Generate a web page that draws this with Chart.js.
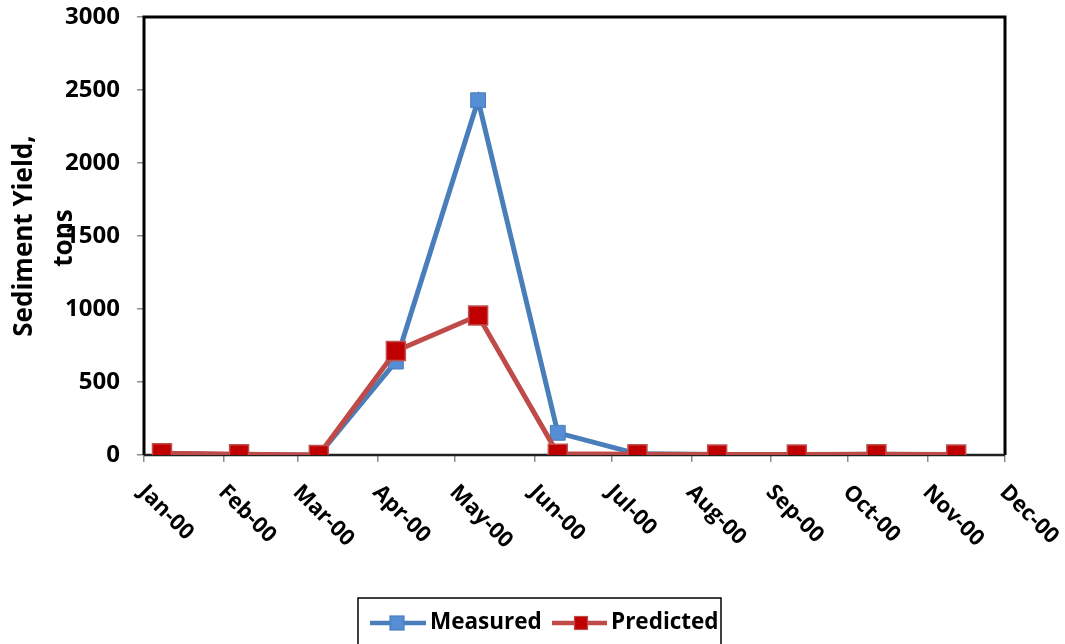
<!DOCTYPE html>
<html>
<head>
<meta charset="utf-8">
<script src="https://cdn.jsdelivr.net/npm/chart.js@4.4.1/dist/chart.umd.min.js"></script>
<style>
  html, body { margin: 0; padding: 0; background: #fff; }
  #wrap { width: 1065px; height: 644px; position: relative; }
</style>
</head>
<body>
<div id="wrap"><canvas id="c" width="1065" height="644"></canvas></div>
<script>
// Month tick labels and the day-of-year (2000) where each month starts
const monthLabels = ['Jan-00','Feb-00','Mar-00','Apr-00','May-00','Jun-00','Jul-00','Aug-00','Sep-00','Oct-00','Nov-00','Dec-00'];
const monthStartDays = [0, 31, 60, 91, 121, 152, 182, 213, 244, 274, 305, 335];

// Sampling dates (day of year) for each monthly value
const sampleDays = [7, 37, 68, 98, 130, 161, 192, 223, 254, 285, 316];

// Sediment yield, tons
const measured  = [12, 2, 0, 640, 2430, 152, 8, 3, 2, 5, 2];
const predicted = [12, 5, 0, 712, 955, 8, 5, 3, 3, 5, 3];

const yTicks = [0, 500, 1000, 1500, 2000, 2500, 3000];

const FONT = '"Open Sans"';
const BLUE_LINE = '#4A7EBB';
const BLUE_FILL = '#558ED5';
const RED_LINE = '#BE4B48';
const RED_FILL = '#C00000';

function toPoints(xs, ys) { return xs.map((x, i) => ({ x: x, y: ys[i] })); }

const decorations = {
  id: 'decorations',
  beforeDatasetsDraw(chart) {
    const { ctx, chartArea: a } = chart;
    ctx.save();
    // plot frame
    ctx.strokeStyle = '#000';
    ctx.lineWidth = 3;
    ctx.beginPath();
    ctx.moveTo(a.left, a.bottom);
    ctx.lineTo(a.left, a.top);
    ctx.lineTo(a.right, a.top);
    ctx.lineTo(a.right, a.bottom);
    ctx.stroke();
    ctx.lineWidth = 2.5;
    ctx.strokeStyle = '#222';
    ctx.beginPath();
    ctx.moveTo(a.left, a.bottom);
    ctx.lineTo(a.right, a.bottom);
    ctx.stroke();
    ctx.restore();
  },
  afterDraw(chart) {
    const { ctx } = chart;
    const xs = chart.scales.x;
    ctx.save();
    ctx.fillStyle = '#000';

    // rotated month labels
    ctx.font = 'bold 22px ' + FONT;
    ctx.textAlign = 'left';
    ctx.textBaseline = 'top';
    monthLabels.forEach((lab, i) => {
      const px = xs.getPixelForValue(monthStartDays[i]);
      ctx.save();
      ctx.translate(px + 6, 481);
      ctx.rotate(Math.PI / 4);
      ctx.fillText(lab, 0, 0);
      ctx.restore();
    });

    // y-axis title, two lines
    ctx.font = 'bold 26px ' + FONT;
    ctx.textAlign = 'center';
    ctx.textBaseline = 'middle';
    ctx.save();
    ctx.translate(25, 236);
    ctx.rotate(-Math.PI / 2);
    ctx.fillText('Sediment Yield,', 0, 0);
    ctx.restore();
    ctx.save();
    ctx.translate(65, 238);
    ctx.rotate(-Math.PI / 2);
    ctx.fillText('tons', 0, 0);
    ctx.restore();

    // legend
    ctx.strokeStyle = '#000';
    ctx.lineWidth = 1.5;
    ctx.strokeRect(358, 598, 363, 60);
    const ly = 623;
    const items = [
      { label: chart.data.datasets[0].label, line: BLUE_LINE, fill: BLUE_FILL, x0: 370, x1: 426, mx: 397, size: 14, tx: 430 },
      { label: chart.data.datasets[1].label, line: RED_LINE, fill: RED_FILL, x0: 552, x1: 607, mx: 581, size: 13, tx: 611 }
    ];
    items.forEach(it => {
      ctx.strokeStyle = it.line;
      ctx.lineWidth = 4.5;
      ctx.beginPath();
      ctx.moveTo(it.x0, ly);
      ctx.lineTo(it.x1, ly);
      ctx.stroke();
      ctx.fillStyle = it.fill;
      ctx.fillRect(it.mx - it.size / 2, ly - it.size / 2, it.size, it.size);
      ctx.lineWidth = 1.2;
      ctx.strokeRect(it.mx - it.size / 2, ly - it.size / 2, it.size, it.size);
      ctx.fillStyle = '#000';
      ctx.font = 'bold 22.5px ' + FONT;
      ctx.textAlign = 'left';
      ctx.textBaseline = 'middle';
      ctx.fillText(it.label, it.tx, ly);
    });
    ctx.restore();
  }
};

new Chart(document.getElementById('c'), {
  type: 'line',
  data: {
    datasets: [
      {
        label: 'Measured',
        data: toPoints(sampleDays, measured),
        borderColor: BLUE_LINE,
        borderWidth: 5,
        backgroundColor: BLUE_FILL,
        pointStyle: 'rect',
        pointRadius: 10.5,
        pointBorderColor: '#4A7EBB',
        pointBorderWidth: 1,
        pointBackgroundColor: BLUE_FILL,
        tension: 0,
        order: 1
      },
      {
        label: 'Predicted',
        data: toPoints(sampleDays, predicted),
        borderColor: RED_LINE,
        borderWidth: 5,
        backgroundColor: RED_FILL,
        pointStyle: 'rect',
        pointRadius: 13.4,
        pointBorderColor: '#C0504D',
        pointBorderWidth: 1.5,
        pointBackgroundColor: RED_FILL,
        tension: 0,
        order: 0
      }
    ]
  },
  options: {
    responsive: false,
    animation: false,
    events: [],
    layout: { padding: { top: 17, right: 60, left: 0, bottom: 0 } },
    plugins: { legend: { display: false }, tooltip: { enabled: false } },
    scales: {
      x: {
        type: 'linear',
        min: monthStartDays[0],
        max: monthStartDays[monthStartDays.length - 1],
        afterBuildTicks(scale) { scale.ticks = monthStartDays.map(v => ({ value: v })); },
        afterFit(scale) { scale.height = 189; scale.paddingLeft = 0; scale.paddingRight = 0; },
        ticks: { display: false },
        grid: { display: true, drawOnChartArea: false, drawTicks: true, tickLength: 7, color: '#8c8c8c', lineWidth: 1.5 },
        border: { display: false }
      },
      y: {
        min: 0,
        max: 3000,
        afterBuildTicks(scale) { scale.ticks = yTicks.map(v => ({ value: v })); },
        afterFit(scale) { scale.width = 144; scale.paddingTop = 0; scale.paddingBottom = 0; },
        ticks: {
          color: '#000',
          font: { family: FONT, size: 24, weight: 'bold' },
          padding: 17,
          callback: v => String(v)
        },
        grid: { display: true, drawOnChartArea: false, drawTicks: true, tickLength: 7, color: '#8c8c8c', lineWidth: 1.5 },
        border: { display: false }
      }
    }
  },
  plugins: [decorations]
});
</script>
</body>
</html>
